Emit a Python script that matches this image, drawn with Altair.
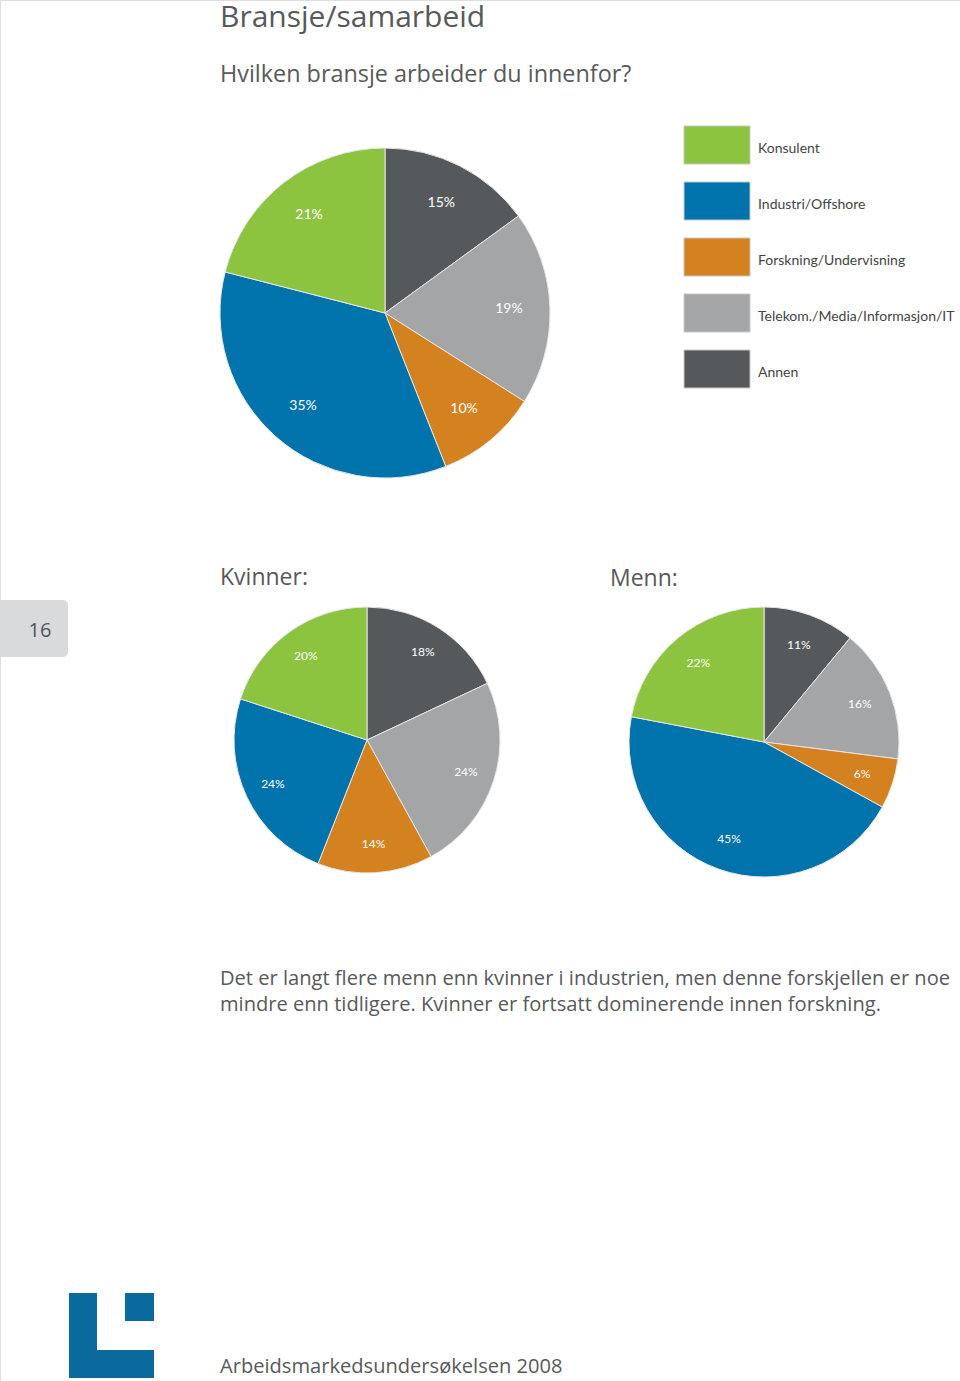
import altair as alt
import pandas as pd

# ---------------- data ----------------
categories = ["Konsulent", "Industri/Offshore", "Forskning/Undervisning",
              "Telekom./Media/Informasjon/IT", "Annen"]
colors = ["#8cc43f", "#0073ac", "#d4821f", "#a3a5a7", "#56595c"]

# slice order clockwise from 12 o'clock
pie_order = ["Annen", "Telekom./Media/Informasjon/IT", "Forskning/Undervisning",
             "Industri/Offshore", "Konsulent"]
alle_values = [15, 19, 10, 35, 21]
kvinner_values = [18, 24, 14, 24, 20]
menn_values = [11, 16, 6, 45, 22]

title_text = "Bransje/samarbeid"
subtitle_text = "Hvilken bransje arbeider du innenfor?"
kvinner_label = "Kvinner:"
menn_label = "Menn:"
caption_lines = [
    "Det er langt flere menn enn kvinner i industrien, men denne forskjellen er noe",
    "mindre enn tidligere. Kvinner er fortsatt dominerende innen forskning.",
]
footer_text = "Arbeidsmarkedsundersøkelsen 2008"
page_number = "16"

HEAD_FONT = "Open Sans"
LABEL_FONT = "Lato"
TEXT_COLOR = "#58595b"

color_scale = alt.Scale(domain=categories, range=colors)


def pie_df(values):
    return pd.DataFrame({
        "kategori": pie_order,
        "verdi": values,
        "idx": list(range(len(values))),
        "label": [f"{v}%" for v in values],
    })


def pie_layers(values, cx, cy, r, label_r, font_size):
    base = alt.Chart(pie_df(values)).encode(
        theta=alt.Theta("verdi:Q", stack=True),
        color=alt.Color("kategori:N", scale=color_scale, legend=None),
        order=alt.Order("idx:Q", sort="ascending"),
        x=alt.value(cx),
        y=alt.value(cy),
    )
    arc = base.mark_arc(outerRadius=r, stroke="#e6e6e6", strokeWidth=1)
    txt = base.mark_text(radius=label_r, font=LABEL_FONT, fontSize=font_size,
                         color="white").encode(
        text="label:N",
        color=alt.value("white"),
    )
    return [arc, txt]


def text_layer(text, x, y, size, font=HEAD_FONT, color=TEXT_COLOR, align="left",
               baseline="alphabetic"):
    return alt.Chart(pd.DataFrame({"t": [text]})).mark_text(
        font=font, fontSize=size, color=color, align=align, baseline=baseline
    ).encode(text="t:N", x=alt.value(x), y=alt.value(y))


layers = []

# decoration: page tab and logo
tab = alt.Chart(pd.DataFrame({"a": [0]})).mark_rect(
    color="#d9dadb", cornerRadius=5
).encode(x=alt.value(-10), x2=alt.value(68), y=alt.value(600), y2=alt.value(657))
layers.append(tab)
layers.append(text_layer(page_number, 40, 637, 20, color="#555555", align="center"))

logo_color = "#0a6a9e"
for (x1, x2, y1, y2) in [(69, 97, 1293, 1378), (69, 154, 1350, 1378), (125, 154, 1293, 1321)]:
    layers.append(alt.Chart(pd.DataFrame({"a": [0]})).mark_rect(color=logo_color).encode(
        x=alt.value(x1), x2=alt.value(x2), y=alt.value(y1), y2=alt.value(y2)))

# texts
layers.append(text_layer(title_text, 220, 27, 30))
layers.append(text_layer(subtitle_text, 220, 82, 23.4))
layers.append(text_layer(kvinner_label, 220, 585, 23))
layers.append(text_layer(menn_label, 610, 586, 23))
layers.append(text_layer(caption_lines[0], 220, 985, 20.1))
layers.append(text_layer(caption_lines[1], 220, 1011, 20.1))
layers.append(text_layer(footer_text, 220, 1373, 20.1))

# pies
layers += pie_layers(alle_values, 385, 313, 165, 124, 14)
layers += pie_layers(kvinner_values, 367, 740, 133, 104, 12)
layers += pie_layers(menn_values, 764, 742, 135, 103, 12)

# legend (drawn from the category list)
leg_df = pd.DataFrame({"kategori": categories})
leg_y = alt.Y("kategori:N", scale=alt.Scale(domain=categories, range=[145, 369], padding=0),
              axis=None)
leg_box = alt.Chart(leg_df).mark_point(
    shape="M-1,-0.576H1V0.576H-1Z", size=66 * 66, filled=True, opacity=1,
    stroke="#c8c8c8", strokeWidth=1
).encode(
    y=leg_y, x=alt.value(717),
    color=alt.Color("kategori:N", scale=color_scale, legend=None),
)
leg_txt = alt.Chart(leg_df).mark_text(
    font=LABEL_FONT, fontSize=14, color="#444444", align="left", baseline="middle", dy=4
).encode(y=leg_y, x=alt.value(758), text="kategori:N")
layers += [leg_box, leg_txt]

chart = alt.layer(*layers).resolve_scale(theta="independent").properties(
    width=960, height=1381, padding=0, autosize=alt.AutoSizeParams(type="none")
).configure_view(stroke=None, strokeWidth=0).configure(background="white")

chart.save("out.html", embed_options={"renderer": "svg", "actions": False})
